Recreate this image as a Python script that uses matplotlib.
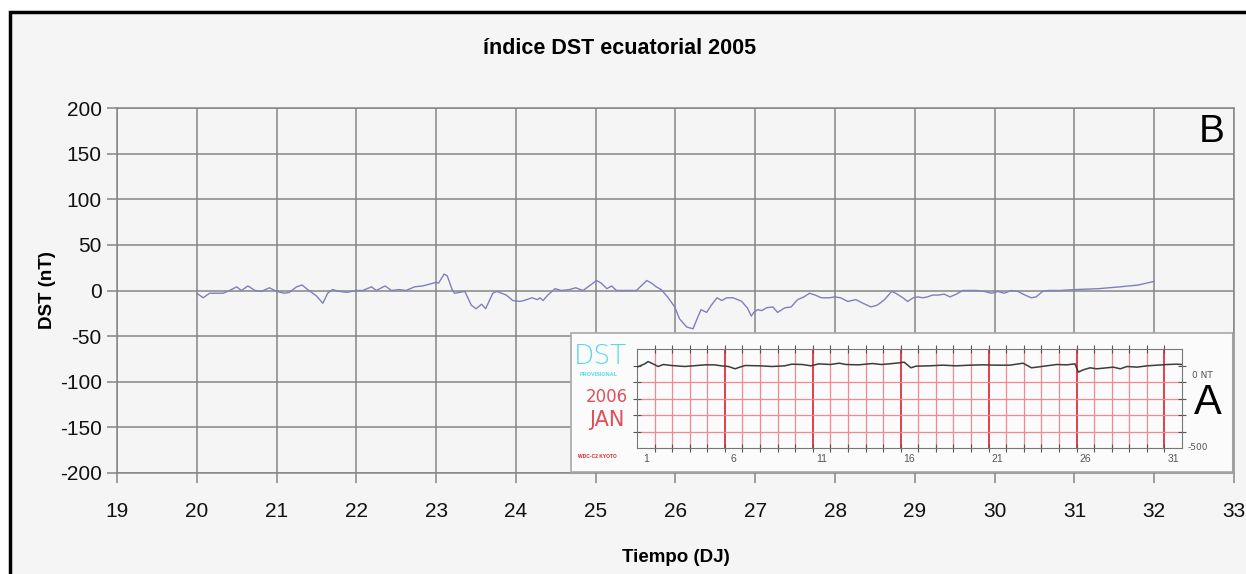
import matplotlib
matplotlib.use("Agg")
import matplotlib.pyplot as plt
from matplotlib.patches import Rectangle

plt.rcParams['font.family'] = ['Liberation Sans', 'DejaVu Sans']
plt.rcParams['axes.unicode_minus'] = False

# DST ecuatorial 2005 (B)
main_days = [20.0, 20.08, 20.16, 20.33, 20.41, 20.5, 20.56, 20.64, 20.73, 20.81,
             20.91, 21.0, 21.1, 21.16, 21.25, 21.32, 21.39, 21.5, 21.58, 21.64,
             21.7, 21.79, 21.88, 22.0, 22.08, 22.19, 22.25, 22.36, 22.44, 22.54,
             22.62, 22.73, 22.83, 22.92, 23.0, 23.03, 23.1, 23.14, 23.2, 23.23,
             23.36, 23.44, 23.5, 23.57, 23.62, 23.71, 23.76, 23.88, 23.96, 24.05,
             24.1, 24.2, 24.27, 24.3, 24.34, 24.4, 24.49, 24.57, 24.67, 24.75,
             24.84, 24.92, 25.01, 25.07, 25.14, 25.2, 25.26, 25.51, 25.57, 25.64,
             25.7, 25.76, 25.82, 25.9, 25.99, 26.05, 26.14, 26.22, 26.28, 26.32,
             26.39, 26.45, 26.52, 26.58, 26.64, 26.72, 26.78, 26.83, 26.9, 26.95,
             26.98, 27.03, 27.08, 27.14, 27.22, 27.28, 27.37, 27.45, 27.53, 27.61,
             27.68, 27.75, 27.83, 27.93, 27.99, 28.07, 28.16, 28.26, 28.35, 28.45,
             28.53, 28.62, 28.71, 28.76, 28.85, 28.91, 28.98, 29.04, 29.1, 29.16,
             29.22, 29.29, 29.37, 29.44, 29.52, 29.6, 29.66, 29.77, 29.87, 29.96,
             30.04, 30.12, 30.21, 30.29, 30.38, 30.46, 30.52, 30.6, 30.68, 30.82,
             31.0, 31.3, 31.57, 31.8, 31.9, 32.0]
main_dst = [-3, -8, -3, -3, 0, 4, 0, 5, 0, -1,
            3, -1, -3, -2, 4, 6, 1, -6, -14, -3,
            1, -1, -2, 0, 0, 4, 0, 5, 0, 1,
            0, 4, 5, 7, 9, 8, 18, 16, 1, -3,
            -1, -16, -20, -15, -20, -3, -1, -5, -11, -12,
            -11, -8, -10, -8, -11, -5, 2, 0, 1, 3,
            0, 5, 11, 8, 2, 5, 0, 0, 5, 11,
            8, 4, 1, -7, -18, -31, -40, -42, -29, -21,
            -24, -16, -8, -11, -8, -8, -10, -12, -19, -28,
            -24, -21, -22, -19, -18, -24, -19, -18, -10, -7,
            -3, -5, -8, -8, -7, -8, -12, -10, -14, -18,
            -16, -10, -1, -3, -8, -12, -8, -7, -8, -7,
            -5, -5, -4, -7, -4, 0, 0, 0, -1, -3,
            -1, -3, 0, -1, -5, -8, -7, -1, 0, 0,
            1, 2, 4, 6, 8, 10]

# DST provisional enero 2006 (A)
inset_days = [1.0, 1.44, 1.63, 1.91, 2.2, 2.5, 2.96, 3.72, 4.2, 4.87,
              5.4, 5.8, 6.2, 6.58, 6.85, 7.15, 8.0, 8.68, 9.4, 9.8,
              10.4, 10.9, 11.34, 12.0, 12.5, 12.9, 13.6, 14.4, 14.9, 15.34,
              15.91, 16.2, 16.58, 16.87, 17.63, 18.39, 19.15, 19.91, 20.67, 21.44,
              22.2, 22.96, 23.44, 23.73, 24.3, 24.87, 25.44, 25.91, 26.1, 26.39,
              26.77, 27.15, 27.53, 28.1, 28.49, 28.87, 29.44, 30.01, 30.58, 31.15,
              31.7, 32.0]
inset_dst = [-10, 10, 24, 10, -6, 6, 0, -6, -2, 4,
             4, -2, -6, -20, -10, 0, -2, -6, -2, 8,
             6, -2, 10, 6, 14, 6, 4, 12, 6, 10,
             16, 20, -14, -4, -2, 2, -2, 2, 4, 2,
             2, 14, -14, -10, -2, 6, 4, 10, -40, -26,
             -14, -20, -16, -10, -20, -6, -10, -2, 2, 6,
             8, 6]
inset_labels = ['1', '6', '11', '16', '21', '26', '31']

W, H = 1246, 574
fig = plt.figure(figsize=(W / 100, H / 100), dpi=100)
fig.patch.set_facecolor('white')

# marco del gráfico (se sale por la derecha y por abajo)
fig.patches.append(Rectangle((10 / W, -0.1), 1.2, 1 - 12 / H + 0.1,
                             transform=fig.transFigure, facecolor='#f5f5f5',
                             edgecolor='black', linewidth=2.5, zorder=-10))

ax = fig.add_axes([117 / W, 1 - 473 / H, 1117 / W, 365 / H])
ax.set_facecolor('none')
ax.plot(main_days, main_dst, color='#7f7fbf', linewidth=1.0, zorder=3)
ax.set_xlim(19, 33)
ax.set_ylim(-200, 200)
ax.set_xticks(range(19, 34))
ax.set_yticks(range(-200, 201, 50))
ax.grid(True, color='#858585', linewidth=1.1)
for s in ax.spines.values():
    s.set_color('#858585')
    s.set_linewidth(1.1)
ax.tick_params(direction='out', length=7, color='#858585', width=1.1,
               labelsize=15, labelcolor='#111111')
ax.tick_params(axis='x', pad=14)
ax.tick_params(axis='y', pad=4)
ax.set_xlabel('Tiempo (DJ)', fontsize=13.5, fontweight='bold', labelpad=20)
ax.set_ylabel('DST (nT)', fontsize=13.5, fontweight='bold', labelpad=3)
fig.text(620 / W, 1 - 49 / H, 'índice DST ecuatorial 2005', ha='center', va='center',
         fontsize=15.5, fontweight='bold')
ax.text(0.992, 0.935, 'B', transform=ax.transAxes, ha='right', va='center',
        fontsize=28, color='black')

# recuadro A
box_l, box_b = 571 / W, 1 - 472 / H
box_w, box_h = 662 / W, 139 / H
fig.patches.append(Rectangle((box_l, box_b), box_w, box_h, transform=fig.transFigure,
                             facecolor='#fbfbfb', edgecolor='#a8a8a8',
                             linewidth=1.2, zorder=5))
fig.lines.append(plt.Line2D([box_l + box_w, box_l + box_w], [box_b, box_b + box_h],
                            transform=fig.transFigure, color='#a0a0a0',
                            linewidth=2.2, zorder=6))

ins = fig.add_axes([637 / W, 1 - 448 / H, 545 / W, 99 / H], zorder=7)
ins.set_facecolor('#fbfbfb')
ins.set_xlim(1, 32)
ins.set_ylim(-500, 100)
for d in range(2, 32):
    thick = (d - 1) % 5 == 0
    ins.axvline(d, color='#e0303a' if thick else '#f08a90',
                linewidth=1.3 if thick else 0.9, zorder=1)
for v in range(-400, 0, 100):
    ins.axhline(v, color='#f08a90', linewidth=0.9, zorder=1)
ins.plot(inset_days, inset_dst, color='#3c3c3c', linewidth=1.1, zorder=3)
ins.set_xticks(range(2, 32))
ins.set_xticklabels([])
ins.set_xticks([d + 0.5 for d in range(1, 32, 5)], labels=inset_labels, minor=True)
ins.tick_params(axis='x', which='major', direction='inout', length=6, color='#555555',
                top=True, bottom=True, width=0.8)
ins.tick_params(axis='x', which='minor', length=0, labelsize=7.5, labelcolor='#555555',
                pad=4)
ins.set_yticks(range(-400, 1, 100))
ins.set_yticklabels([])
ins.tick_params(axis='y', direction='inout', length=6, color='#555555', left=True,
                right=True, width=0.8)
for s in ins.spines.values():
    s.set_color('#777777')
    s.set_linewidth(0.8)
ins.text(1.018, 0.73, '0 NT', transform=ins.transAxes, fontsize=6.5, color='#555555',
         va='center', family='DejaVu Sans')
ins.text(1.01, 0.01, '-500', transform=ins.transAxes, fontsize=6.5, color='#555555',
         va='center', family='DejaVu Sans')

fig.text(600 / W, 1 - 356 / H, 'DST', ha='center', va='center', fontsize=19,
         color='#56d8e6', family='DejaVu Sans', fontweight='light', zorder=8)
fig.text(599 / W, 1 - 374 / H, 'PROVISIONAL', ha='center', va='center', fontsize=4,
         color='#56d8e6', fontweight='bold', zorder=8)
fig.text(607 / W, 1 - 397 / H, '2006', ha='center', va='center', fontsize=12,
         color='#e0505a', family='DejaVu Sans', zorder=8)
fig.text(607 / W, 1 - 420 / H, 'JAN', ha='center', va='center', fontsize=15,
         color='#e0505a', family='DejaVu Sans', zorder=8)
fig.text(597 / W, 1 - 457 / H, 'WDC-C2 KYOTO', ha='center', va='center', fontsize=3.5,
         color='#e02020', fontweight='bold', zorder=8)
fig.text(1208 / W, 1 - 403 / H, 'A', ha='center', va='center', fontsize=30,
         color='black', zorder=8)

fig.savefig('out.png', dpi=100, facecolor=fig.get_facecolor())
